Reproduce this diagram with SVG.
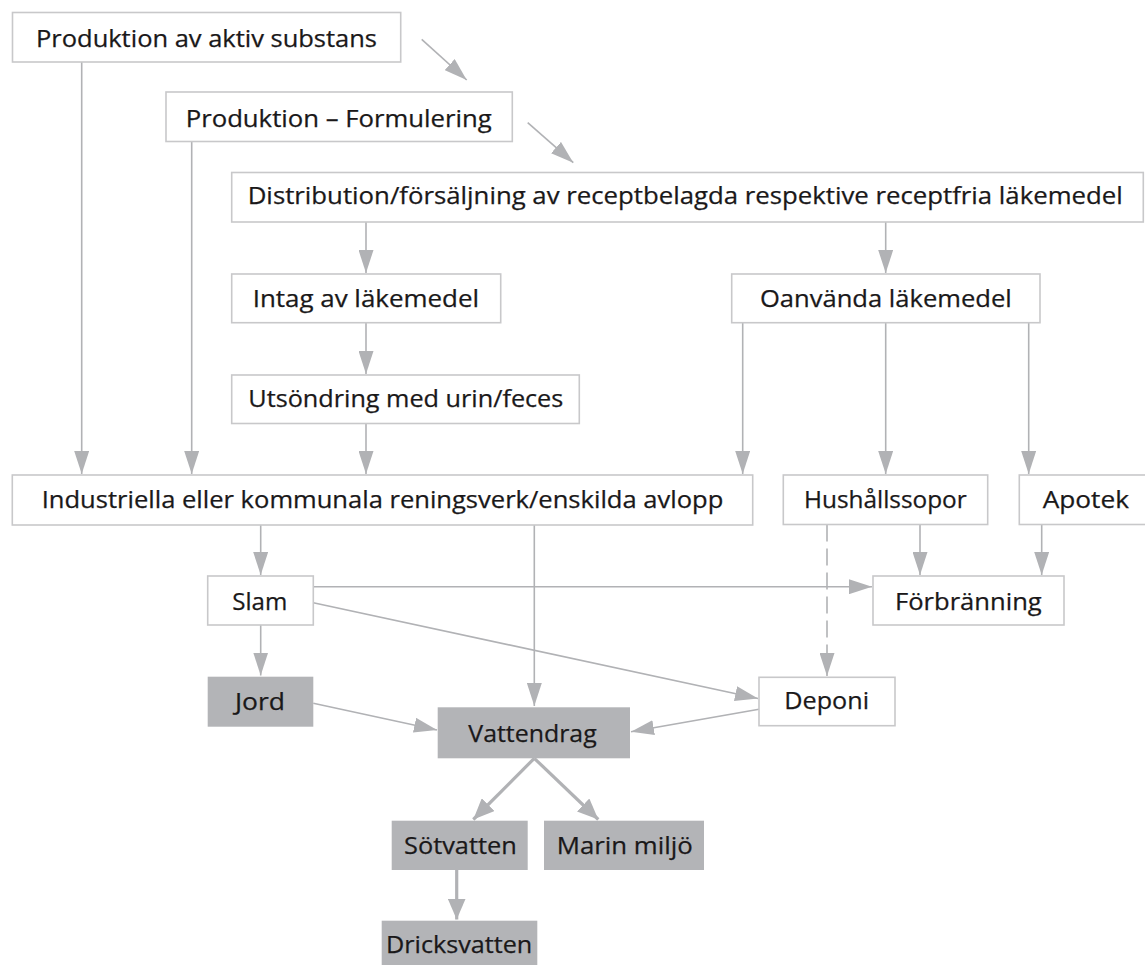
<svg xmlns="http://www.w3.org/2000/svg" width="1145" height="965" viewBox="0 0 1145 965">
<style>
  .box { fill: #ffffff; stroke: #c8c8ca; stroke-width: 1.6; }
  .gbox { fill: #b3b4b7; stroke: none; }
  .lbl { font-family: "Open Sans", "Liberation Sans", sans-serif; font-size: 24px; fill: #1a1819; stroke: #1a1819; stroke-width: 0.25; }
  .ln { fill: none; stroke: #b1b2b5; stroke-width: 1.6; marker-end: url(#ah); }
  .ln2 { fill: none; stroke: #b1b2b5; stroke-width: 3.2; marker-end: url(#ah2); }
  .dash { stroke-dasharray: 17 7; }
</style>
<defs>
  <marker id="ah" markerUnits="userSpaceOnUse" markerWidth="23" markerHeight="15" refX="23" refY="7.5" orient="auto">
    <path d="M0,0 L23,7.5 L0,15 z" fill="#b1b2b5"/>
  </marker>
  <marker id="ah2" markerUnits="userSpaceOnUse" markerWidth="21" markerHeight="18" refX="21" refY="9" orient="auto">
    <path d="M0,0 L21,9 L0,18 z" fill="#b1b2b5"/>
  </marker>
</defs>
<rect width="1145" height="965" fill="#ffffff"/>

<g id="connectors">
  <line class="ln" x1="421.7" y1="39.3" x2="466.7" y2="80"/>
  <line class="ln" x1="527.7" y1="122.7" x2="573.3" y2="162.7"/>
  <line class="ln" x1="81.7" y1="62" x2="81.7" y2="474"/>
  <line class="ln" x1="191.7" y1="141.5" x2="191.7" y2="474"/>
  <line class="ln" x1="366" y1="222" x2="366" y2="273"/>
  <line class="ln" x1="366" y1="322.7" x2="366" y2="374"/>
  <line class="ln" x1="366" y1="424" x2="366" y2="474"/>
  <line class="ln" x1="885.7" y1="222" x2="885.7" y2="273"/>
  <line class="ln" x1="742.7" y1="322.7" x2="742.7" y2="474"/>
  <line class="ln" x1="885.7" y1="322.7" x2="885.7" y2="474"/>
  <line class="ln" x1="1028.7" y1="322.7" x2="1028.7" y2="474"/>
  <line class="ln" x1="260.7" y1="525" x2="260.7" y2="575"/>
  <line class="ln" x1="534.3" y1="525" x2="534.3" y2="706"/>
  <line class="ln" x1="920" y1="524.5" x2="920" y2="575"/>
  <line class="ln" x1="1041.7" y1="525" x2="1041.7" y2="575"/>
  <line class="ln dash" x1="827" y1="524.5" x2="827" y2="676"/>
  <line class="ln" x1="260.7" y1="625" x2="260.7" y2="675.5"/>
  <line class="ln" x1="313.3" y1="586.7" x2="872" y2="586.7"/>
  <line class="ln" x1="313.3" y1="602.7" x2="758" y2="698.5"/>
  <line class="ln" x1="313.3" y1="703.3" x2="437" y2="730"/>
  <line class="ln" x1="759" y1="709.3" x2="631" y2="731.7"/>
  <line class="ln2" x1="534.3" y1="758.3" x2="473.3" y2="819.5"/>
  <line class="ln2" x1="534.3" y1="758.3" x2="598.3" y2="819.5"/>
  <line class="ln2" x1="456.7" y1="870" x2="456.7" y2="919.5"/>
</g>

<g id="n1"><rect class="box" x="12.5" y="12.5" width="388.2" height="49.5"/><text class="lbl" x="36" y="46.7" textLength="341" lengthAdjust="spacingAndGlyphs">Produktion av aktiv substans</text></g>
<g id="n2"><rect class="box" x="166" y="92" width="346.3" height="49.5"/><text class="lbl" x="185.7" y="126.5" textLength="306" lengthAdjust="spacingAndGlyphs">Produktion – Formulering</text></g>
<g id="n3"><rect class="box" x="231.7" y="172.5" width="911.6" height="49.5"/><text class="lbl" x="247.7" y="204.3" textLength="875" lengthAdjust="spacingAndGlyphs">Distribution/försäljning av receptbelagda respektive receptfria läkemedel</text></g>
<g id="n4"><rect class="box" x="231.7" y="274" width="269" height="48.7"/><text class="lbl" x="252.7" y="306.7" textLength="226.3" lengthAdjust="spacingAndGlyphs">Intag av läkemedel</text></g>
<g id="n5"><rect class="box" x="731.7" y="274" width="308.3" height="48.7"/><text class="lbl" x="760" y="306.7" textLength="251.7" lengthAdjust="spacingAndGlyphs">Oanvända läkemedel</text></g>
<g id="n6"><rect class="box" x="231.7" y="375" width="347.6" height="48.5"/><text class="lbl" x="248.3" y="406.7" textLength="315" lengthAdjust="spacingAndGlyphs">Utsöndring med urin/feces</text></g>
<g id="n7"><rect class="box" x="12.3" y="475" width="740.4" height="50"/><text class="lbl" x="41.7" y="508.3" textLength="681.6" lengthAdjust="spacingAndGlyphs">Industriella eller kommunala reningsverk/enskilda avlopp</text></g>
<g id="n8"><rect class="box" x="783.3" y="475" width="204.4" height="49.5"/><text class="lbl" x="804" y="508.3" textLength="162.7" lengthAdjust="spacingAndGlyphs">Hushållssopor</text></g>
<g id="n9"><rect class="box" x="1019.3" y="475" width="140" height="49.5"/><text class="lbl" x="1042.7" y="508.3" textLength="86.3" lengthAdjust="spacingAndGlyphs">Apotek</text></g>
<g id="n10"><rect class="box" x="207.7" y="576" width="105.6" height="49"/><text class="lbl" x="232.3" y="610" textLength="55" lengthAdjust="spacingAndGlyphs">Slam</text></g>
<g id="n11"><rect class="box" x="873" y="576" width="191" height="49"/><text class="lbl" x="895" y="610" textLength="146.7" lengthAdjust="spacingAndGlyphs">Förbränning</text></g>
<g id="n12"><rect class="gbox" x="207.7" y="676.7" width="105.6" height="50"/><text class="lbl" x="235" y="710" textLength="50" lengthAdjust="spacingAndGlyphs">Jord</text></g>
<g id="n13"><rect class="box" x="759" y="677.3" width="136" height="48.4"/><text class="lbl" x="784.3" y="709.3" textLength="84.7" lengthAdjust="spacingAndGlyphs">Deponi</text></g>
<g id="n14"><rect class="gbox" x="437.7" y="707.3" width="192.3" height="51"/><text class="lbl" x="468.3" y="741.7" textLength="128.4" lengthAdjust="spacingAndGlyphs">Vattendrag</text></g>
<g id="n15"><rect class="gbox" x="391.7" y="820.7" width="136" height="49.3"/><text class="lbl" x="404" y="854" textLength="112.7" lengthAdjust="spacingAndGlyphs">Sötvatten</text></g>
<g id="n16"><rect class="gbox" x="544" y="820.7" width="160" height="49.3"/><text class="lbl" x="556.7" y="854" textLength="136" lengthAdjust="spacingAndGlyphs">Marin miljö</text></g>
<g id="n17"><rect class="gbox" x="381.7" y="920.7" width="155.6" height="60"/><text class="lbl" x="386" y="953.3" textLength="146.3" lengthAdjust="spacingAndGlyphs">Dricksvatten</text></g>
</svg>
